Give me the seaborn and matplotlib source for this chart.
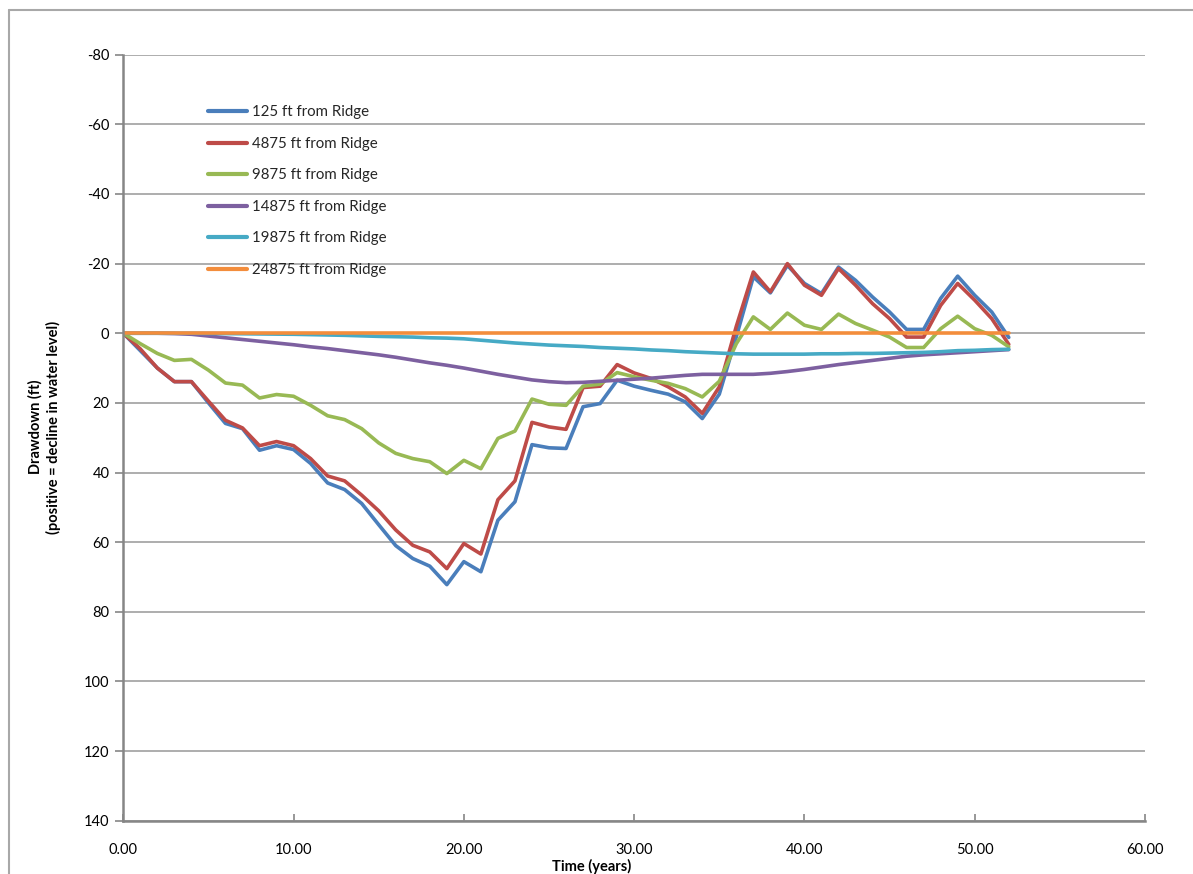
import numpy as np
import pandas as pd
import matplotlib
matplotlib.use("Agg")
import matplotlib.pyplot as plt
from matplotlib.lines import Line2D
from matplotlib.ticker import FormatStrFormatter
import seaborn as sns

years = list(range(0, 53))

d125 = [0, 5, 10, 13.9, 13.9, 20, 25.9, 27.4, 33.6, 32.3, 33.4, 37.4, 43, 44.9, 48.9, 55,
        61, 64.7, 66.9, 72.2, 65.6, 68.5, 53.7, 48.4, 32, 32.9, 33.1, 21.1, 20.2, 13.5, 15.2,
        16.4, 17.5, 19.7, 24.5, 17.5, 1, -16.2, -11.6, -19.5, -14.3, -11.4, -19, -15.2, -10.4,
        -6.1, -1.1, -1.1, -10, -16.4, -10.9, -6.1, 1.2]
d4875 = [0, 4.5, 10, 13.9, 13.9, 19.5, 25, 27.2, 32.3, 31.1, 32.3, 36, 41, 42.4, 46.5, 51,
         56.5, 60.9, 62.8, 67.6, 60.4, 63.4, 47.8, 42.4, 25.6, 26.9, 27.6, 15.6, 15.2, 9, 11.4,
         13, 15.4, 18.3, 23, 15.4, -2, -17.6, -11.9, -20, -13.8, -10.9, -18.6, -13.8, -8.5,
         -4.2, 1.1, 1.1, -8, -14.3, -9.5, -4.2, 3.2]
d9875 = [0, 3, 5.8, 7.8, 7.5, 10.6, 14.3, 14.9, 18.6, 17.6, 18.1, 20.7, 23.7, 24.8, 27.4, 31.5,
         34.5, 36, 36.9, 40.3, 36.5, 38.9, 30.2, 28.1, 18.9, 20.4, 20.7, 15.2, 14.6, 11.3, 12.5,
         13.5, 14.4, 15.9, 18.3, 13.8, 3, -4.7, -1.1, -5.8, -2.3, -1.1, -5.5, -2.8, -0.9,
         1.1, 4.1, 4.1, -1.3, -4.9, -1.3, 0.6, 3.9]
d14875 = [0, 0, 0, 0.1, 0.3, 0.8, 1.3, 1.8, 2.3, 2.8, 3.3, 3.9, 4.4, 5.0, 5.6, 6.2,
          6.9, 7.7, 8.5, 9.2, 10.0, 10.9, 11.8, 12.6, 13.4, 13.9, 14.2, 14.1, 13.8, 13.5, 13.2,
          12.9, 12.5, 12.1, 11.8, 11.8, 11.8, 11.8, 11.5, 11, 10.4, 9.7, 9, 8.4, 7.8,
          7.2, 6.6, 6.2, 5.9, 5.6, 5.3, 5, 4.7]
d19875 = [0, 0, 0, 0, 0, 0.05, 0.1, 0.15, 0.2, 0.25, 0.3, 0.4, 0.5, 0.6, 0.75, 0.9,
          1.0, 1.1, 1.3, 1.4, 1.6, 2.0, 2.4, 2.8, 3.1, 3.4, 3.6, 3.8, 4.1, 4.3, 4.5,
          4.8, 5.0, 5.3, 5.5, 5.7, 5.9, 6.0, 6.0, 6.0, 6.0, 5.9, 5.9, 5.8, 5.8,
          5.7, 5.6, 5.5, 5.3, 5.0, 4.9, 4.7, 4.6]
d24875 = [0] * 53

labels = ["125 ft from Ridge", "4875 ft from Ridge", "9875 ft from Ridge",
          "14875 ft from Ridge", "19875 ft from Ridge", "24875 ft from Ridge"]
series = [d125, d4875, d9875, d14875, d19875, d24875]
colors = ["#4A7EBB", "#BE4B48", "#98B954", "#7D60A0", "#46AAC5", "#F38D3C"]

x_ticks = [0, 10, 20, 30, 40, 50, 60]
y_ticks = [-80, -60, -40, -20, 0, 20, 40, 60, 80, 100, 120, 140]

frames = []
for lab, vals in zip(labels, series):
    frames.append(pd.DataFrame({"Time": years, "Drawdown": vals, "Series": lab}))
df = pd.concat(frames, ignore_index=True)

sns.set_theme(style="white")
plt.rcParams["font.family"] = ["Lato", "DejaVu Sans"]

fig = plt.figure(figsize=(11.93, 8.74), dpi=100)
ax = fig.add_axes([123.3 / 1193, 53.3 / 874, (1145 - 123.3) / 1193, 766 / 874])

sns.lineplot(data=df, x="Time", y="Drawdown", hue="Series", hue_order=labels,
             palette=colors, estimator=None, sort=False, linewidth=2.6, ax=ax,
             legend=False)

ax.set_xlim(0, 60)
ax.set_ylim(140, -80)
ax.set_xticks(x_ticks)
ax.set_yticks(y_ticks)
ax.xaxis.set_major_formatter(FormatStrFormatter("%.2f"))
ax.yaxis.set_major_formatter(FormatStrFormatter("%d"))

ax.yaxis.grid(True, color="#A0A0A0", linewidth=1.2)
ax.xaxis.grid(False)
ax.set_axisbelow(True)
for s in ["top", "right"]:
    ax.spines[s].set_visible(False)
for s in ["left", "bottom"]:
    ax.spines[s].set_color("#868686")
    ax.spines[s].set_linewidth(1.8)

ax.tick_params(axis="y", which="major", direction="out", length=6, width=1.2,
               color="#868686", labelsize=10.5, pad=4, left=True, labelcolor="#000000")
ax.tick_params(axis="x", which="major", direction="in", length=5, width=1.2,
               color="#868686", labelsize=10.5, pad=16, bottom=True, labelcolor="#000000")

ax.set_xlabel("Time (years)", fontsize=10.5, fontweight="bold", color="#000000")
ax.xaxis.set_label_coords(0.458, -0.0495)
ax.set_ylabel("Drawdown (ft)\n(positive = decline in water level)", fontsize=10.5,
              fontweight="bold", color="#000000", linespacing=1.3)
ax.yaxis.set_label_coords(-0.061, 0.514)

handles = [Line2D([0], [0], color=c, linewidth=3) for c in colors]
ax.legend(handles, labels, loc="upper left", bbox_to_anchor=(0.083, 0.934),
          frameon=False, fontsize=10.8, handlelength=2.6, handletextpad=0.3,
          labelspacing=1.17, borderpad=0, borderaxespad=0)

# outer chart frame (partially visible)
fig.add_artist(Line2D([9 / 1193, 1.0], [1 - 10 / 874, 1 - 10 / 874],
                      transform=fig.transFigure, color="#A8A8A8", linewidth=1.5))
fig.add_artist(Line2D([9 / 1193, 9 / 1193], [0, 1 - 10 / 874],
                      transform=fig.transFigure, color="#A8A8A8", linewidth=1.5))

fig.savefig("out.png", dpi=100, facecolor="white")
